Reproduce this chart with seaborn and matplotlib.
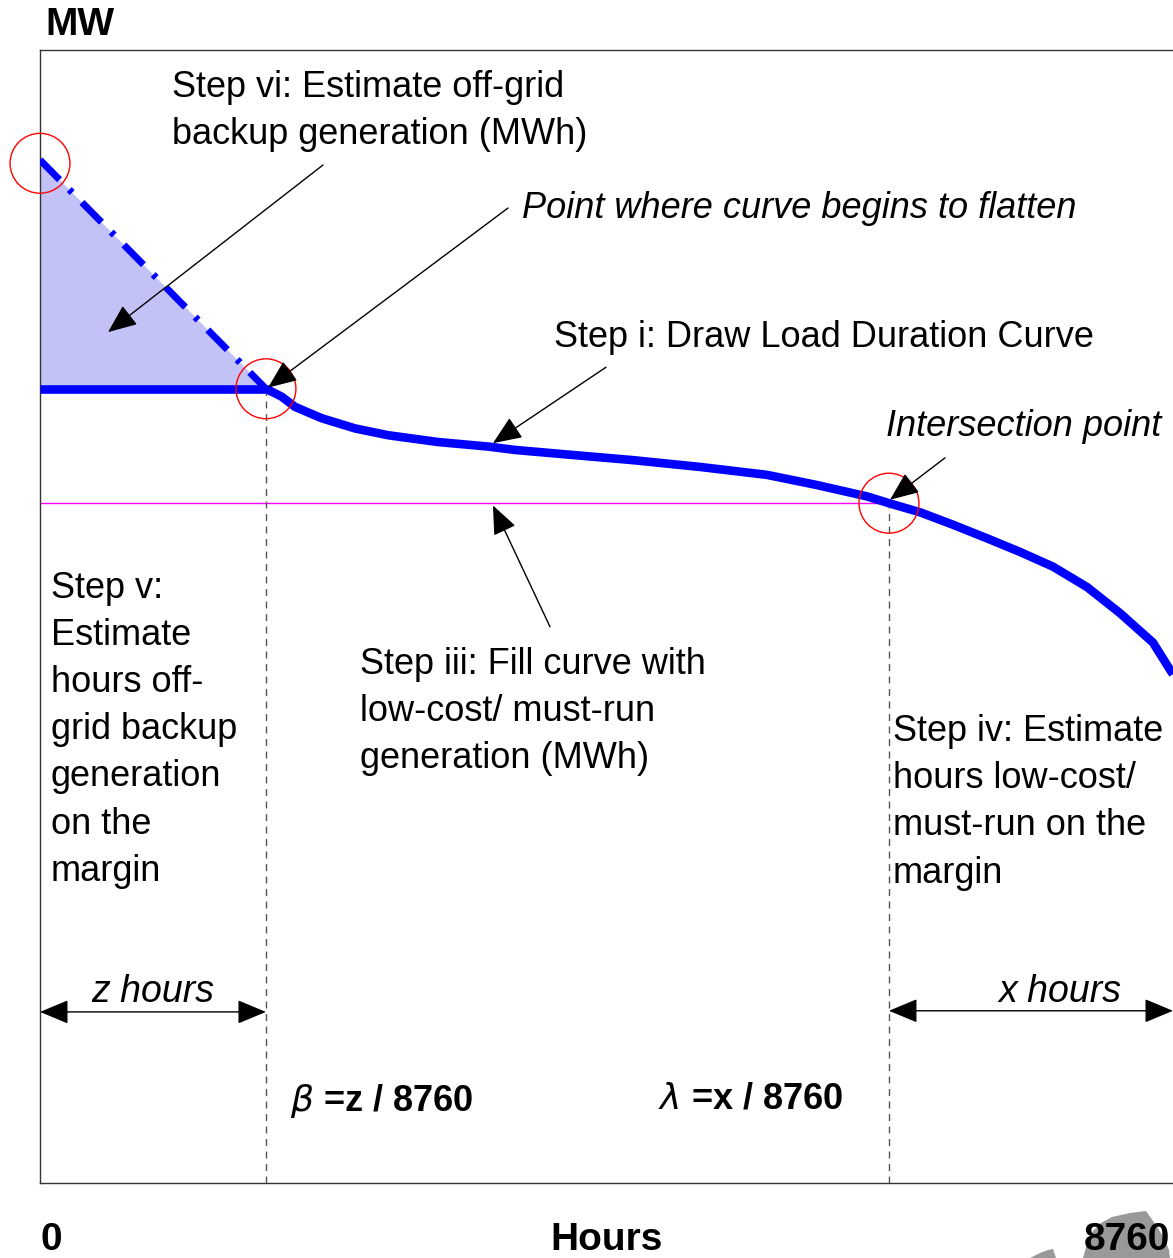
import numpy as np
import pandas as pd
import matplotlib
matplotlib.use("Agg")
import matplotlib.pyplot as plt
from matplotlib.patches import Polygon
import seaborn as sns

# ------------------------------------------------------------
# Données (heures, MW en unités arbitraires 0-100)
# ------------------------------------------------------------
HOURS_MAX = 8760

# courbe de charge classée (partie mesurée)
ldc_hours = [1747, 1869, 1972, 2178, 2436, 2691, 3077, 3464, 3673, 4075,
             4585, 5103, 5621, 6008, 6394, 6564, 6804, 7059, 7322, 7577,
             7832, 8095, 8350, 8605, 8737, 8760]
ldc_mw = [70.1, 69.4, 68.5, 67.5, 66.6, 66.0, 65.4, 65.0, 64.7, 64.3,
          63.8, 63.2, 62.5, 61.6, 60.6, 60.0, 59.2, 58.1, 56.9, 55.7,
          54.4, 52.6, 50.3, 47.7, 45.3, 44.9]

# plafond (réseau) et extrapolation hors réseau
cap_hours = [0, 1747]
cap_mw = [70.1, 70.1]
extrap_hours = [0, 1747]
extrap_mw = [90.3, 70.1]

# points remarquables
z_hours = 1747
x_point = 6564
flat_mw = 70.1
cross_mw = 60.0
peak_mw = 90.0

df_ldc = pd.DataFrame({"Hours": ldc_hours, "MW": ldc_mw})
df_cap = pd.DataFrame({"Hours": cap_hours, "MW": cap_mw})
df_ext = pd.DataFrame({"Hours": extrap_hours, "MW": extrap_mw})

# ------------------------------------------------------------
# Figure
# ------------------------------------------------------------
sns.set_theme(style="white")
plt.rcParams["font.family"] = ["Liberation Sans", "DejaVu Sans"]
plt.rcParams["text.color"] = "black"

fig = plt.figure(figsize=(11.73, 12.58), dpi=100)
ax = fig.add_axes([40 / 1173, 75 / 1258, 1133 / 1173, 1133 / 1258])
ax.set_xlim(0, HOURS_MAX)
ax.set_ylim(0, 100)
ax.set_xticks([])
ax.set_yticks([])
for s in ["top", "left", "bottom"]:
    ax.spines[s].set_color("#333333")
    ax.spines[s].set_linewidth(1.0)
ax.spines["right"].set_visible(False)

# zone de production hors réseau
ax.fill_between(extrap_hours, extrap_mw, cap_mw, color="#c2c2f7",
                linewidth=0, zorder=1)

# lignes
sns.lineplot(data=df_ext, x="Hours", y="MW", ax=ax, color="blue", lw=5,
             linestyle=(0, (4.0, 2.0, 0.6, 2.0)), zorder=3)
sns.lineplot(data=df_cap, x="Hours", y="MW", ax=ax, color="blue", lw=6.2,
             zorder=3, solid_capstyle="butt")
sns.lineplot(data=df_ldc, x="Hours", y="MW", ax=ax, color="blue", lw=6.2,
             zorder=3, solid_joinstyle="round", solid_capstyle="butt")
ax.set_xlabel("")
ax.set_ylabel("")

ax.hlines(cross_mw, 0, x_point, color="magenta", lw=1, zorder=2)
ax.vlines(z_hours, 0, flat_mw, color="#555555", lw=1, linestyle=(0, (5, 4)),
          zorder=2)
ax.vlines(x_point, 0, cross_mw, color="#555555", lw=1, linestyle=(0, (5, 4)),
          zorder=2)

# cercles rouges
ax.scatter([0, z_hours, x_point], [peak_mw, flat_mw, cross_mw], s=1860,
           facecolors="none", edgecolors="red", linewidths=1, zorder=4,
           clip_on=False)

# flèches
arrow = dict(arrowstyle="-|>,head_length=0.6,head_width=0.25",
             mutation_scale=30, color="black", lw=1, shrinkA=0, shrinkB=0)
for tail, head in [((2188, 89.85), (526, 75.1)),
                   ((3618, 86.05), (1763, 70.2)),
                   ((4376, 72.0), (3502, 65.3)),
                   ((6997, 64.0), (6572, 60.3)),
                   ((3943, 49.1), (3502, 59.8))]:
    ax.annotate("", xy=head, xytext=tail, arrowprops=arrow, zorder=5)

darrow = dict(arrowstyle="<|-|>,head_length=0.6,head_width=0.25",
              mutation_scale=30, color="black", lw=1, shrinkA=0, shrinkB=0)
ax.annotate("", xy=(0, 15.1), xytext=(z_hours, 15.1), arrowprops=darrow)
ax.annotate("", xy=(x_point, 15.2), xytext=(HOURS_MAX, 15.2),
            arrowprops=darrow, annotation_clip=False)

# textes
fs = 26
ls = 1.45
ax.text(1021, 94.6, "Step vi: Estimate off-grid\nbackup generation (MWh)",
        fontsize=fs, ha="left", va="center", linespacing=ls)
ax.text(3727, 86.05, "Point where curve begins to flatten", fontsize=fs,
        style="italic", ha="left", va="center")
ax.text(3974, 74.65, "Step i: Draw Load Duration Curve", fontsize=fs,
        ha="left", va="center")
ax.text(6541, 66.75, "Intersection point", fontsize=fs, style="italic",
        ha="left", va="center")
ax.text(85, 40.0, "Step v:\nEstimate\nhours off-\ngrid backup\ngeneration\non the\nmargin",
        fontsize=fs, ha="left", va="center", linespacing=ls)
ax.text(2474, 41.62, "Step iii: Fill curve with\nlow-cost/ must-run\ngeneration (MWh)",
        fontsize=fs, ha="left", va="center", linespacing=ls)
ax.text(6595, 33.6, "Step iv: Estimate\nhours low-cost/\nmust-run on the\nmargin",
        fontsize=fs, ha="left", va="center", linespacing=ls)
ax.text(874, 16.9, "z hours", fontsize=27, style="italic", ha="center",
        va="center")
ax.text(7886, 16.9, "x hours", fontsize=27, style="italic", ha="center",
        va="center")
ax.text(1933, 7.2, r"$\beta$ =z / 8760", fontsize=fs, fontweight="bold",
        ha="left", va="center")
ax.text(4778, 7.45, r"$\lambda$ =x / 8760", fontsize=fs, fontweight="bold",
        ha="left", va="center")

# fragment de logo gris en bas à droite
W, H = 1173, 1258
big = [(1083, 1258), (1087, 1244), (1093, 1231), (1101, 1223), (1112, 1217),
       (1130, 1213), (1146, 1211), (1151, 1218), (1158, 1228), (1165, 1240),
       (1169, 1250), (1170, 1258)]
small = [(1030, 1258), (1040, 1253), (1048, 1250), (1053, 1249), (1056, 1258)]
for poly in (big, small):
    fig.patches.append(Polygon([(px / W, 1 - py / H) for px, py in poly],
                               closed=True, transform=fig.transFigure,
                               facecolor="#999999", edgecolor="none",
                               zorder=0))

fig.text(45 / W, 1 - 25 / H, "MW", fontsize=28, fontweight="bold",
         ha="left", va="center")
fig.text(40 / W, 1 - 1240 / H, "0", fontsize=28, fontweight="bold",
         ha="left", va="center")
fig.text(607 / W, 1 - 1240 / H, "Hours", fontsize=28, fontweight="bold",
         ha="center", va="center")
fig.text(1170 / W, 1 - 1240 / H, "8760", fontsize=28, fontweight="bold",
         ha="right", va="center")

fig.savefig("out.png", dpi=100)
